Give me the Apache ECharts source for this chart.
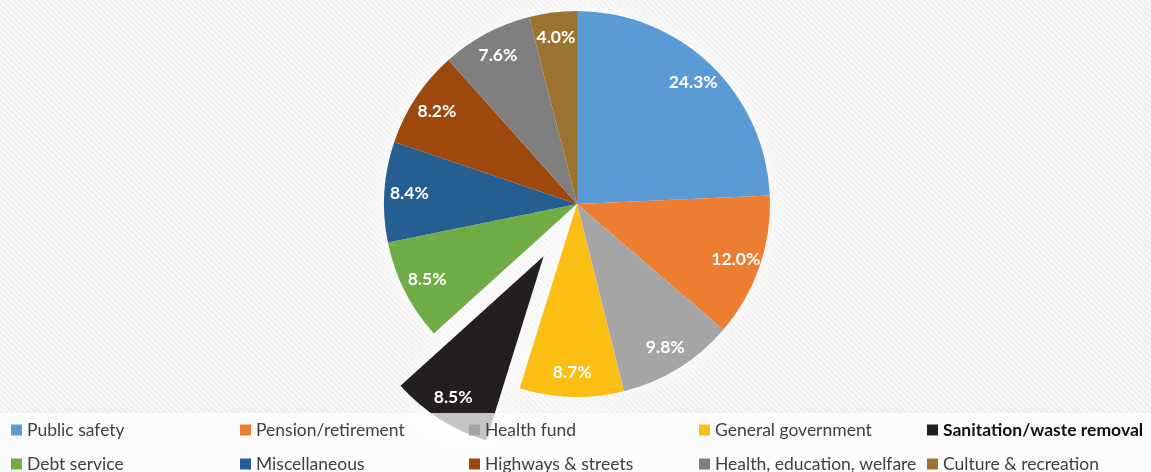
<!DOCTYPE html>
<html>
<head>
<meta charset="utf-8">
<script src="https://cdn.jsdelivr.net/npm/echarts@6/dist/echarts.min.js"></script>
<style>
html,body{margin:0;padding:0;}
body{width:1151px;height:472px;background:#f1f1f1;
background-image:repeating-linear-gradient(45deg,#f7f7f7 0px,#f7f7f7 2px,#eeeeee 2px,#eeeeee 4px);}
#chart{width:1151px;height:472px;}
</style>
</head>
<body>
<div id="chart"></div>
<script>
const categories = ['Public safety','Pension/retirement','Health fund','General government','Sanitation/waste removal','Debt service','Miscellaneous','Highways & streets','Health, education, welfare','Culture & recreation'];
const values = [24.3, 12.0, 9.8, 8.7, 8.5, 8.5, 8.4, 8.2, 7.6, 4.0];
const colors = ['#5B9BD5','#ED7D31','#A5A5A5','#FBBF13','#231F20','#70AD47','#255E91','#9E480E','#7F7F7F','#9A7430'];
const explodedIndex = 4;
const legendColumns = [[0,5],[1,6],[2,7],[3,8],[4,9]];
const legendLefts = [11, 240, 469, 699, 927];

const center = [577, 204];
const R = 193;
const off = 62;

function makeData(mode){
  return categories.map((c,i)=>({
    name:c, value:values[i], selected: i===explodedIndex,
    itemStyle: mode==='glow' ? {color:'#ffffff', shadowColor:'rgba(255,255,255,1)', shadowBlur:45}
             : mode==='label' ? {color:'rgba(0,0,0,0)'} : {color:colors[i]}
  }));
}
const common = {type:'pie', center:center, startAngle:90, clockwise:true, selectedMode:'single', selectedOffset:off,
  animation:false, silent:true, emphasis:{disabled:true}, select:{itemStyle:{}} , legendHoverLink:false};

const legends = legendColumns.map((col,k)=>({
  orient:'vertical', left:legendLefts[k], top:421, height:60, padding:0, itemWidth:11, itemHeight:11, itemGap:16,
  icon:'rect', selectedMode:false, z:10,
  textStyle:{fontFamily:'Lato', fontSize:17.5, color:'#404040', lineHeight:17},
  data: col.map(i=>({name:categories[i], itemStyle:{color:colors[i]},
     textStyle: i===explodedIndex ? {fontWeight:'bold', color:'#111111', fontSize:17.5} : {}}))
}));

const chart = echarts.init(document.getElementById('chart'), null, {renderer:'canvas'});
chart.setOption({
  backgroundColor:'transparent',
  legend: legends,
  graphic:[{type:'rect', left:0, top:413, z:5, silent:true, shape:{width:1151, height:59}, style:{fill:'rgba(255,255,255,0.74)'}}],
  series:[
    Object.assign({}, common, {name:'glow', z:1, radius:[0,R], label:{show:false}, labelLine:{show:false}, data:makeData('glow')}),
    Object.assign({}, common, {name:'main', z:2, radius:[0,R], label:{show:false}, labelLine:{show:false},
      itemStyle:{borderWidth:0}, data:makeData('main')}),
    Object.assign({}, common, {name:'labels', z:3, radius:[137,R], labelLine:{show:false},
      label:{show:true, position:'inside', color:'#ffffff', fontFamily:'Lato', fontWeight:'bold', fontSize:17.5,
        formatter:p=>p.value.toFixed(1)+'%'},
      data:makeData('label')})
  ]
});
</script>
</body>
</html>
